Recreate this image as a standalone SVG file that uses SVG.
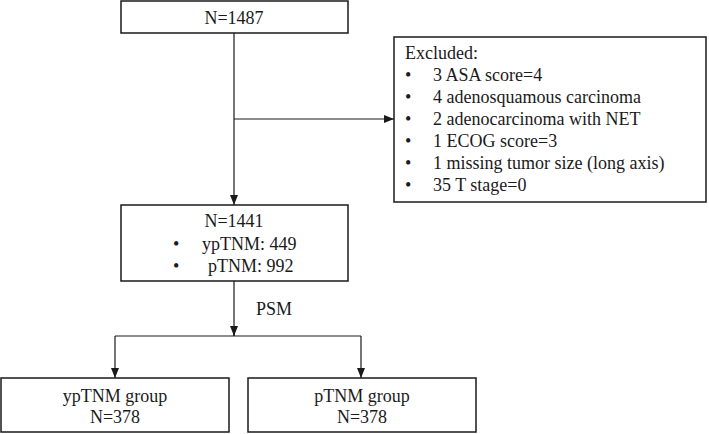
<svg xmlns="http://www.w3.org/2000/svg" width="709" height="434" viewBox="0 0 709 434">
<style>
.box{fill:#fff;stroke:#1a1a1a;stroke-width:1.5}
.t{font-family:"Liberation Serif","Times New Roman",serif;font-size:18px;fill:#1a1a1a}
.c{text-anchor:middle}
.ln{fill:none;stroke:#1a1a1a;stroke-width:1.2}
</style>
<defs>
<marker id="ah" markerWidth="10" markerHeight="8" refX="10" refY="4" orient="auto" markerUnits="userSpaceOnUse">
<path d="M0,0 L10,4 L0,8 Z" fill="#1a1a1a"/>
</marker>
</defs>
<g id="connectors">
<path class="ln" d="M234,33 V205" marker-end="url(#ah)"/>
<path class="ln" d="M234,119 H394" marker-end="url(#ah)"/>
<path class="ln" d="M234,281 V336"/>
<path class="ln" d="M115,336 H361"/>
<path class="ln" d="M234,326 V336" marker-end="url(#ah)"/>
<path class="ln" d="M115,336 V378" marker-end="url(#ah)"/>
<path class="ln" d="M361,336 V378" marker-end="url(#ah)"/>
<text class="t" x="256" y="315">PSM</text>
</g>
<g id="n1487">
<rect class="box" x="121" y="1" width="227" height="32"/>
<text class="t c" x="234" y="24">N=1487</text>
</g>
<g id="excluded">
<rect class="box" x="394" y="37" width="312" height="165"/>
<text class="t" x="405" y="59">Excluded:</text>
<g class="t">
<text x="405" y="81">•</text><text x="433" y="81">3 ASA score=4</text>
<text x="405" y="103">•</text><text x="433" y="103">4 adenosquamous carcinoma</text>
<text x="405" y="125">•</text><text x="433" y="125">2 adenocarcinoma with NET</text>
<text x="405" y="147">•</text><text x="433" y="147">1 ECOG score=3</text>
<text x="405" y="169">•</text><text x="433" y="169">1 missing tumor size (long axis)</text>
<text x="405" y="191">•</text><text x="433" y="191">35 T stage=0</text>
</g>
</g>
<g id="n1441">
<rect class="box" x="121" y="205" width="227" height="76"/>
<text class="t c" x="234" y="227">N=1441</text>
<text class="t" x="173" y="250">•</text><text class="t" x="202" y="250">ypTNM: 449</text>
<text class="t" x="173" y="272">•</text><text class="t" x="208" y="272">pTNM: 992</text>
</g>
<g id="yptnm">
<rect class="box" x="1" y="378" width="228" height="54"/>
<text class="t c" x="115" y="402">ypTNM group</text>
<text class="t c" x="115" y="423">N=378</text>
</g>
<g id="ptnm">
<rect class="box" x="248" y="378" width="228" height="54"/>
<text class="t c" x="362" y="402">pTNM group</text>
<text class="t c" x="362" y="423">N=378</text>
</g>
</svg>
